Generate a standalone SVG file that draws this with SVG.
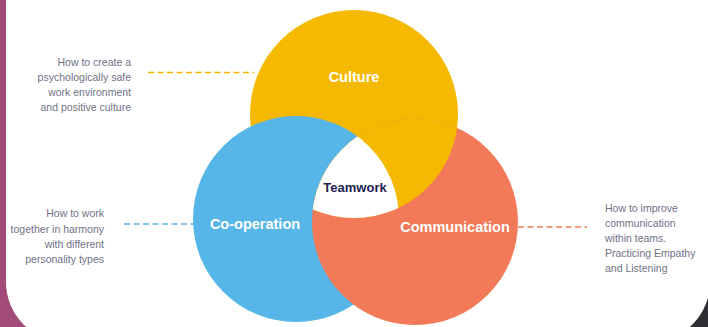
<svg xmlns="http://www.w3.org/2000/svg" width="708" height="327" viewBox="0 0 708 327">
<defs>
<style>
.note{font-family:"Liberation Sans",Arial,sans-serif;font-size:10.5px;fill:#6f7287}
.lbl{font-family:"Liberation Sans",Arial,sans-serif;font-size:14.5px;font-weight:bold;fill:#ffffff;text-anchor:middle}
.dash{fill:none;stroke-width:1.6;stroke-dasharray:6 3.5}
</style>
<clipPath id="cY"><circle cx="354" cy="114" r="104"/></clipPath>
<clipPath id="cB"><circle cx="296" cy="219" r="103"/></clipPath>
<clipPath id="cO"><circle cx="415" cy="222" r="103"/></clipPath>
</defs>
<rect x="0" y="0" width="708" height="327" fill="#2e3033"/>
<rect x="0" y="0" width="354" height="327" fill="#a34b78"/>
<path id="card" d="M6,-10 H710 V282 A60,60 0 0 1 650,342 H66 A60,60 0 0 1 6,282 Z" fill="#ffffff"/>

<g id="connectors">
<line class="dash" x1="148" y1="72.5" x2="254" y2="72.5" stroke="#f4b400"/>
<line class="dash" x1="124" y1="224" x2="195" y2="224" stroke="#55b5e7"/>
<line class="dash" x1="518" y1="227" x2="587" y2="227" stroke="#f27b59"/>
</g>

<g id="culture">
<circle cx="354" cy="114" r="104" fill="#f4b900"/>
</g>
<g id="cooperation">
<circle cx="296" cy="219" r="103" fill="#56b6e7"/>
</g>
<g id="communication">
<circle cx="415" cy="222" r="103" fill="#f27a59"/>
</g>
<g id="overlaps">
<circle cx="354" cy="114" r="104" fill="#f4b900" clip-path="url(#cO)"/>
<g clip-path="url(#cY)"><g clip-path="url(#cB)"><circle cx="415" cy="222" r="103" fill="#ffffff"/></g></g>
</g>

<g id="labels">
<text class="lbl" x="354" y="82">Culture</text>
<text class="lbl" x="255" y="229">Co-operation</text>
<text class="lbl" x="455" y="232">Communication</text>
<text class="lbl" x="355" y="191.5" style="fill:#1c2150;font-size:13px">Teamwork</text>
</g>

<g id="note-culture">
<text class="note" text-anchor="end" x="131" y="66">How to create a</text>
<text class="note" text-anchor="end" x="131" y="81">psychologically safe</text>
<text class="note" text-anchor="end" x="131" y="96">work environment</text>
<text class="note" text-anchor="end" x="131" y="111">and positive culture</text>
</g>
<g id="note-cooperation">
<text class="note" text-anchor="end" x="104" y="217">How to work</text>
<text class="note" text-anchor="end" x="104" y="233">together in harmony</text>
<text class="note" text-anchor="end" x="104" y="248">with different</text>
<text class="note" text-anchor="end" x="104" y="263">personality types</text>
</g>
<g id="note-communication">
<text class="note" x="605" y="212">How to improve</text>
<text class="note" x="605" y="227">communication</text>
<text class="note" x="605" y="242">within teams.</text>
<text class="note" x="605" y="257">Practicing Empathy</text>
<text class="note" x="605" y="272">and Listening</text>
</g>
</svg>
